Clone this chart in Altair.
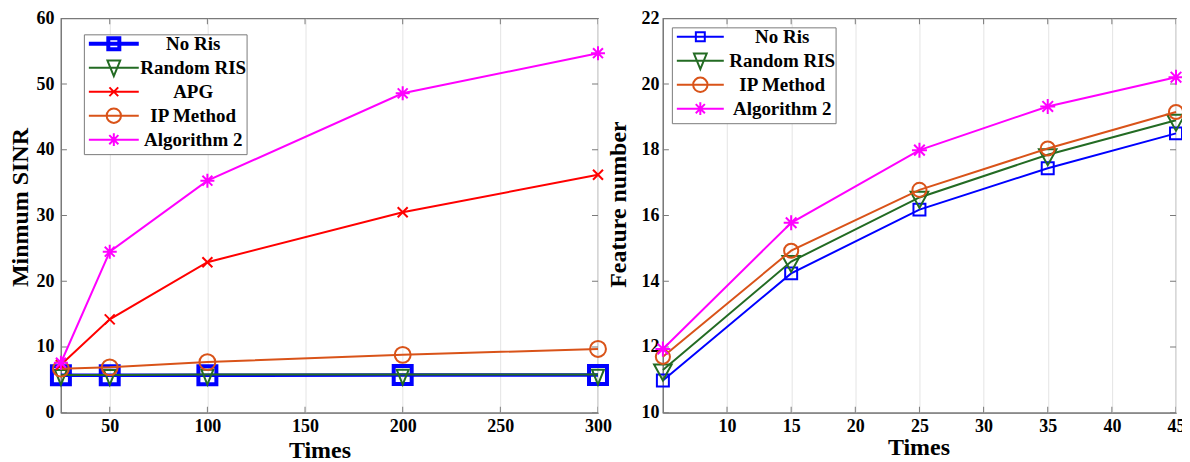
import altair as alt
import pandas as pd

# ---------------- data ----------------
series_L = ["No Ris", "Random RIS", "APG", "IP Method", "Algorithm 2"]
times_L = [25, 50, 100, 200, 300]
noris_L = [5.7, 5.7, 5.7, 5.75, 5.75]
random_L = [5.75, 5.75, 5.8, 5.8, 5.8]
apg_L = [7.3, 14.2, 22.9, 30.5, 36.2]
ip_L = [6.7, 6.9, 7.7, 8.8, 9.7]
alg2_L = [7.6, 24.5, 35.3, 48.6, 54.7]

series_R = ["No Ris", "Random RIS", "IP Method", "Algorithm 2"]
times_R = [5, 15, 25, 35, 45]
noris_R = [10.98, 14.24, 16.18, 17.44, 18.5]
random_R = [11.3, 14.6, 16.55, 17.85, 18.9]
ip_R = [11.7, 14.93, 16.78, 18.04, 19.15]
alg2_R = [11.94, 15.78, 17.99, 19.32, 20.21]

xticks_L = [50, 100, 150, 200, 250, 300]
yticks_L = [0, 10, 20, 30, 40, 50, 60]
xticks_R = [10, 15, 20, 25, 30, 35, 40, 45]
yticks_R = [10, 12, 14, 16, 18, 20, 22]

# ---------------- styles ----------------
FONT = "Liberation Serif"
FRAME = "#7a7a7a"
COL = {"No Ris": "#0000ff", "Random RIS": "#236b23", "APG": "#ff0000",
       "IP Method": "#d95319", "Algorithm 2": "#ff00ff"}

X_PATH = "M-1,-1L1,1M-1,1L1,-1"
AST_PATH = "M-1,0H1M0,-1V1M-0.71,-0.71L0.71,0.71M-0.71,0.71L0.71,-0.71"
TRI_L = "M-0.75,-0.62L0.75,-0.62L0,1.25Z"
TRI_R = "M-1.1,-0.7L1.1,-0.7L0,1.3Z"


def sq(s):
    return f"M-{s},-{s}H{s}V{s}H-{s}Z"


# legend symbols (line + marker), unit = 8px (symbolSize 256);
# the leading moves give every entry the same height
def leg_paths(half, sq_half, thick):
    ln = f"M-{half},0H{half}"
    e = "M0,-1.2M0,1.2"
    if thick:  # doubled strokes -> a line and square twice as heavy
        noris = (e + f"M-{half},-0.125H{half}M-{half},0.125H{half}"
                 + sq(sq_half - 0.125) + sq(sq_half + 0.125))
    else:
        noris = e + ln + sq(sq_half)
    return {
        "No Ris": noris,
        "Random RIS": e + ln + "M-0.8,-0.9L0.8,-0.9L0,1.05Z",
        "APG": e + ln + "M-0.55,-0.55L0.55,0.55M-0.55,0.55L0.55,-0.55",
        "IP Method": e + ln + "M0.9,0A0.9,0.9,0,1,1,-0.9,0A0.9,0.9,0,1,1,0.9,0",
        "Algorithm 2": e + ln + "M0,-0.8V0.8M-0.57,-0.57L0.57,0.57M-0.57,0.57L0.57,-0.57",
    }

# marker style per series: (shape, size, marker stroke, line stroke)
MK_L = {"No Ris": ("square", 324, 4, 3.5),
        "Random RIS": (TRI_L, 256, 2, 2),
        "APG": (X_PATH, 100, 2, 2),
        "IP Method": ("circle", 254, 2, 2),
        "Algorithm 2": (AST_PATH, 196, 2, 2)}
MK_R = {"No Ris": ("square", 144, 2, 2),
        "Random RIS": (TRI_R, 256, 2, 2),
        "IP Method": ("circle", 200, 2, 2),
        "Algorithm 2": (AST_PATH, 225, 2, 2)}


def long_df(series, times, vals):
    rows = []
    for s, v in zip(series, vals):
        for t, y in zip(times, v):
            rows.append({"series": s, "Times": t, "val": y})
    return pd.DataFrame(rows)


df_L = long_df(series_L, times_L, [noris_L, random_L, apg_L, ip_L, alg2_L])
df_R = long_df(series_R, times_R, [noris_R, random_R, ip_R, alg2_R])


def panel(df, series, mk, xdom, xt, ydom, yt, ytitle, w, h,
          ytx, yty, xtx, xty, ylp, xlp, leg):
    X = alt.X("Times:Q", scale=alt.Scale(domain=xdom, nice=False, zero=False),
              axis=alt.Axis(values=xt, title="Times", titleX=xtx, titleY=xty,
                            titleBaseline="alphabetic", titleAlign="center",
                            labelPadding=xlp, labelFlush=False))
    Y = alt.Y("val:Q", scale=alt.Scale(domain=ydom, nice=False, zero=False),
              axis=alt.Axis(values=yt, title=ytitle, titleX=ytx, titleY=yty,
                            titleAngle=270, titleBaseline="alphabetic",
                            titleAlign="center", labelPadding=ylp))
    layers = []
    # inward tick marks on all four sides (half of each tick is clipped away)
    xtdf = pd.DataFrame({"Times": xt})
    ytdf = pd.DataFrame({"val": yt})
    for yv in ydom:
        layers.append(alt.Chart(xtdf).mark_tick(orient="vertical", size=12, thickness=1,
                                                color=FRAME, clip=True, opacity=1)
                      .encode(x=X, y=alt.datum(yv)))
    for xv in xdom:
        layers.append(alt.Chart(ytdf).mark_tick(orient="horizontal", size=12, thickness=1,
                                                color=FRAME, clip=True, opacity=1)
                      .encode(y=Y, x=alt.datum(xv)))
    base = alt.Chart(df)
    for s in series:
        shape, size, msw, lsw = mk[s]
        sub = base.transform_filter(alt.datum.series == s)
        layers.append(sub.mark_line(color=COL[s], strokeWidth=lsw).encode(x=X, y=Y))
        layers.append(sub.mark_point(shape=shape, size=size, color=COL[s], filled=False,
                                     strokeWidth=msw, opacity=1).encode(x=X, y=Y))
    paths = leg["paths"]
    lg = alt.Legend(orient="none", legendX=leg["x"], legendY=leg["y"], title=None,
                    symbolSize=256, symbolOffset=leg["so"], labelOffset=leg["lo"],
                    labelAlign="center", labelFont=FONT, labelFontSize=19,
                    labelFontWeight="bold", labelColor="black", rowPadding=leg["rp"],
                    padding=0, strokeColor=FRAME, fillColor="white",
                    symbolFillColor="transparent", symbolOpacity=1, symbolStrokeWidth=2)
    legend_layer = base.transform_filter("false").mark_point(filled=False, opacity=1, strokeWidth=2).encode(
        color=alt.Color("series:N", scale=alt.Scale(domain=series, range=[COL[s] for s in series]), legend=lg),
        shape=alt.Shape("series:N", scale=alt.Scale(domain=series, range=[paths[s] for s in series]), legend=lg),
    )
    layers.append(legend_layer)
    return alt.layer(*layers).properties(width=w, height=h)


left = panel(df_L, series_L, MK_L, [25, 300], xticks_L, [0, 60], yticks_L, "Minmum SINR",
             538, 395, -33, 189, 259, 45, 7, 5,
             {"x": 23, "y": 16, "so": 20.5, "lo": 70, "rp": -5.7,
              "paths": leg_paths(3.125, 0.69, True)})
right = panel(df_R, series_R, MK_R, [5, 45], xticks_R, [10, 22], yticks_R, "Feature number",
              514, 395, -37, 186, 256, 42, 4, 5,
              {"x": 9, "y": 9, "so": 19, "lo": 72.5, "rp": -5.5,
               "paths": leg_paths(2.94, 0.56, False)})

chart = alt.hconcat(left, right, spacing=65, bounds="flush").resolve_scale(
    color="independent", shape="independent"
).resolve_legend(
    color="independent", shape="independent"
).properties(
    padding={"left": 0, "top": 0, "right": -8, "bottom": 0}
).configure_view(stroke=FRAME, strokeWidth=1.2).configure_axis(
    labelFont=FONT, labelFontSize=18, labelFontWeight="bold", labelColor="black",
    titleFont=FONT, titleFontSize=24, titleFontWeight="bold", titleColor="black",
    domainColor=FRAME, domainWidth=1.2, tickSize=0, gridColor="#e4e4e4", gridWidth=1,
)

chart.save("out.html", embed_options={"renderer": "svg", "actions": False})
